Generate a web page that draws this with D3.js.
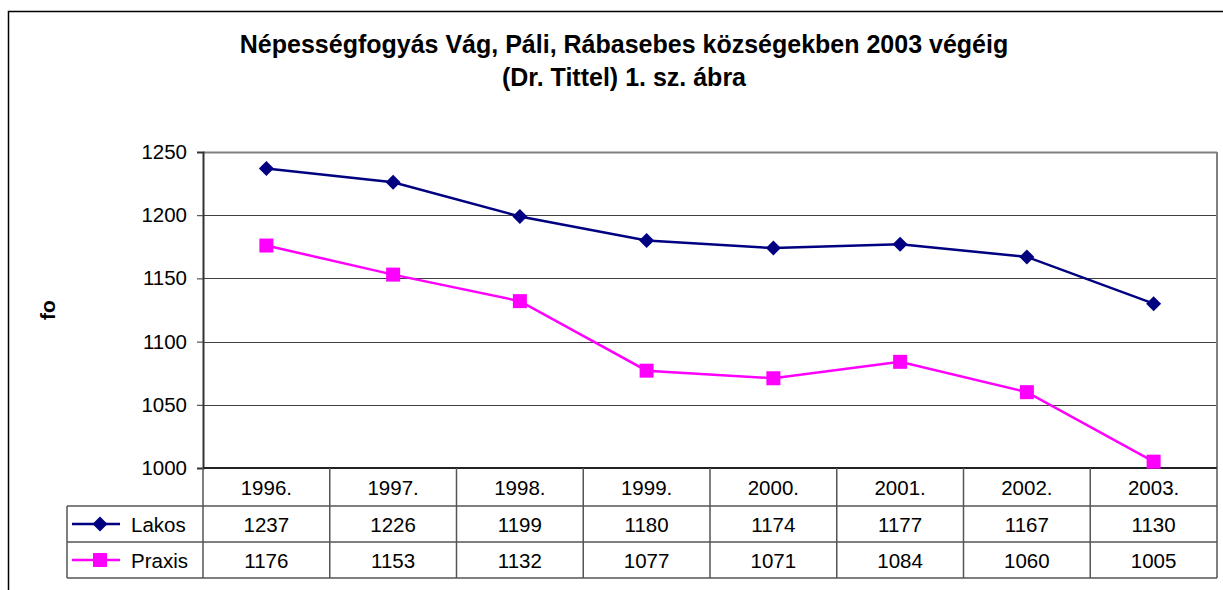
<!DOCTYPE html>
<html><head><meta charset="utf-8">
<script src="https://cdn.jsdelivr.net/npm/d3@7/dist/d3.min.js"></script>
<style>body{margin:0;background:#fff;} text{font-family:"Liberation Sans",Arial,sans-serif;}</style>
</head><body>
<svg id="c" width="1223" height="590"></svg>
<script>
const categories = ["1996.","1997.","1998.","1999.","2000.","2001.","2002.","2003."];
const lakos = [1237,1226,1199,1180,1174,1177,1167,1130];
const praxis = [1176,1153,1132,1077,1071,1084,1060,1005];
const seriesNames = ["Lakos","Praxis"];
const yTicks = [1000,1050,1100,1150,1200,1250];
const titleLines = ["Népességfogyás Vág, Páli, Rábasebes községekben 2003 végéig","(Dr. Tittel) 1. sz. ábra"];
const yLabel = "fo";

const svg = d3.select("#c");
const L = 203, R = 1217, T = 152, B = 468;
const rowH = 36;
const tableLeft = 67;
const FS = 20.5;

svg.append("rect").attr("x",8.5).attr("y",11.5).attr("width",1240).attr("height",600)
  .attr("fill","none").attr("stroke","#000").attr("stroke-width",1.5);

titleLines.forEach((t,i)=>svg.append("text").attr("x",624).attr("y",53+i*33)
  .attr("text-anchor","middle").attr("font-size",25).attr("font-weight","bold").text(t));

svg.append("text").attr("transform","translate(55,310) rotate(-90)").attr("text-anchor","middle")
  .attr("font-size",21).attr("font-weight","bold").text(yLabel);

const x = d3.scaleBand().domain(categories).range([L,R]);
const y = d3.scaleLinear().domain([1000,1250]).range([B,T]);

// gridlines
svg.append("g").selectAll("line").data(yTicks.filter(v=>v>1000)).join("line")
  .attr("x1",L).attr("x2",R).attr("y1",d=>Math.round(y(d))+0.5).attr("y2",d=>Math.round(y(d))+0.5)
  .attr("stroke",d=>d===1250?"#808080":"#404040").attr("stroke-width",d=>d===1250?2:1);
// right border
svg.append("line").attr("x1",R).attr("x2",R).attr("y1",T).attr("y2",B).attr("stroke","#808080").attr("stroke-width",2);

// y axis
const yAxis = d3.axisLeft(y).tickValues(yTicks).tickSize(6).tickPadding(10).tickFormat(d3.format("d"));
const ga = svg.append("g").attr("transform",`translate(${L},0)`).call(yAxis);
ga.select(".domain").attr("stroke","#333").attr("stroke-width",2);
ga.selectAll(".tick line").attr("stroke","#333");
ga.selectAll(".tick text").attr("font-size",FS).attr("fill","#000").attr("font-family","Liberation Sans, Arial, sans-serif");

// table
const tg = svg.append("g");
const rows = [B, B+38, B+38+rowH, B+38+2*rowH];
tg.append("line").attr("x1",L).attr("x2",R).attr("y1",B).attr("y2",B).attr("stroke","#222").attr("stroke-width",2);
[rows[1],rows[2],rows[3]].forEach(yy=>tg.append("line").attr("x1",tableLeft).attr("x2",R).attr("y1",yy).attr("y2",yy).attr("stroke","#555").attr("stroke-width",1.5));
const bounds = categories.map(c=>x(c)).concat([R]);
bounds.forEach(bx=>tg.append("line").attr("x1",bx).attr("x2",bx).attr("y1",B).attr("y2",rows[3]).attr("stroke","#555").attr("stroke-width",1.5));
tg.append("line").attr("x1",tableLeft).attr("x2",tableLeft).attr("y1",rows[1]).attr("y2",rows[3]).attr("stroke","#555").attr("stroke-width",1.5);

tg.selectAll("text.cat").data(categories).join("text").attr("class","cat")
  .attr("x",d=>x(d)+x.bandwidth()/2).attr("y",B+27).attr("text-anchor","middle").attr("font-size",FS).text(d=>d);

const diamond = "M0,-7.5L7.5,0L0,7.5L-7.5,0Z";
const square = "M-7,-7H7V7H-7Z";
const series = [
  {name:seriesNames[0], values:lakos, color:"#000080", path:diamond},
  {name:seriesNames[1], values:praxis, color:"#FF00FF", path:square}
];

series.forEach((s,i)=>{
  const ry = rows[1+i];
  tg.selectAll(null).data(s.values).join("text")
    .attr("x",(d,j)=>x(categories[j])+x.bandwidth()/2).attr("y",ry+26).attr("text-anchor","middle")
    .attr("font-size",FS).text(d=>d);
  const ly = ry + rowH/2;
  tg.append("line").attr("x1",72).attr("x2",120).attr("y1",ly).attr("y2",ly).attr("stroke",s.color).attr("stroke-width",2.5);
  tg.append("path").attr("d",s.path).attr("transform",`translate(100,${ly})`).attr("fill",s.color);
  tg.append("text").attr("x",131).attr("y",ry+26).attr("font-size",FS).text(s.name);

  const line = d3.line().x((d,j)=>x(categories[j])+x.bandwidth()/2).y(d=>y(d));
  svg.append("path").datum(s.values).attr("d",line).attr("fill","none").attr("stroke",s.color).attr("stroke-width",2.5);
  svg.append("g").selectAll("path").data(s.values).join("path")
    .attr("d",s.path)
    .attr("transform",(d,j)=>`translate(${x(categories[j])+x.bandwidth()/2},${y(d)})`)
    .attr("fill",s.color);
});
</script>
</body></html>
